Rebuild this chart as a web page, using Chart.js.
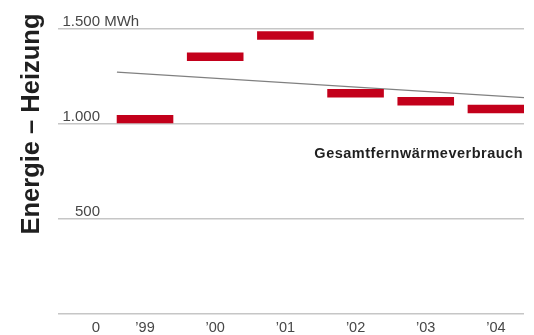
<!DOCTYPE html>
<html>
<head>
<meta charset="utf-8">
<script src="https://cdn.jsdelivr.net/npm/chart.js@4/dist/chart.umd.min.js"></script>
<style>
  html, body { margin: 0; padding: 0; background: #ffffff; }
  #wrap { width: 534px; height: 335px; }
</style>
</head>
<body>
<div id="wrap"><canvas id="c" width="534" height="335"></canvas></div>
<script>
// District heating consumption per year (MWh)
const years = ['\u201999', '\u201900', '\u201901', '\u201902', '\u201903', '\u201904'];
const consumption = [1023, 1351, 1463, 1159, 1117, 1076];

// Trend line through the series (x in year index, y in MWh)
const trendX = [-0.4, 5.4];
const trendY = [1270, 1136];

// Value axis ticks and their printed labels
const yTicks = [0, 500, 1000, 1500];
const yTickLabels = ['0', '500', '1.000', '1.500'];
const yUnit = 'MWh';

const axisTitle = 'Energie \u2013 Heizung';
const seriesLabel = 'Gesamtfernw\u00e4rmeverbrauch';

const RED = '#c3001b';
const GRID = '#c6c6c6';
const TEXT = '#474747';
const DARK = '#1f1f1f';
const FONT = '"Liberation Sans", Arial, Helvetica, sans-serif';

const labelsPlugin = {
  id: 'labels',
  afterDraw(chart) {
    const ctx = chart.ctx;
    const y = chart.scales.y;
    const area = chart.chartArea;
    const numRight = area.left + 42;

    ctx.save();
    // value labels sit just above their gridline; zero sits below the baseline
    ctx.font = '15px ' + FONT;
    ctx.fillStyle = TEXT;
    ctx.textBaseline = 'middle';
    yTicks.forEach((v, i) => {
      const py = y.getPixelForValue(v);
      const ty = v === 0 ? py + 14 : py - 6.5;
      ctx.textAlign = 'right';
      ctx.fillText(yTickLabels[i], numRight, ty);
      if (i === yTicks.length - 1) {
        ctx.textAlign = 'left';
        ctx.fillText(' ' + yUnit, numRight, ty);
      }
    });

    // series label under the trend
    ctx.font = 'bold 14.5px ' + FONT;
    ctx.fillStyle = DARK;
    ctx.textAlign = 'right';
    ctx.textBaseline = 'alphabetic';
    if ('letterSpacing' in ctx) ctx.letterSpacing = '0.5px';
    ctx.fillText(seriesLabel, area.right - 1, 158);
    if ('letterSpacing' in ctx) ctx.letterSpacing = '0px';

    // rotated axis title
    ctx.translate(38.5, 124);
    ctx.rotate(-Math.PI / 2);
    ctx.font = 'bold 25.5px ' + FONT;
    ctx.fillStyle = DARK;
    ctx.textAlign = 'center';
    ctx.textBaseline = 'alphabetic';
    ctx.fillText(axisTitle, 0, 0);
    ctx.restore();
  }
};

new Chart(document.getElementById('c'), {
  type: 'scatter',
  data: {
    datasets: [
      {
        label: 'Trend',
        type: 'line',
        data: trendX.map((x, i) => ({ x: x, y: trendY[i] })),
        borderColor: '#808080',
        borderWidth: 1.3,
        pointRadius: 0,
        pointHoverRadius: 0,
        fill: false,
        order: 2
      },
      {
        label: seriesLabel,
        data: consumption.map((v, i) => ({ x: i, y: v })),
        pointStyle: 'line',
        pointRadius: 28.3,
        pointHoverRadius: 28.3,
        pointBorderWidth: 8.4,
        pointHoverBorderWidth: 8.4,
        borderColor: RED,
        backgroundColor: RED,
        order: 1
      }
    ]
  },
  options: {
    responsive: false,
    animation: false,
    events: [],
    layout: {
      autoPadding: false,
      padding: { left: 58, right: 10, top: 28.5, bottom: 0 }
    },
    plugins: {
      legend: { display: false },
      tooltip: { enabled: false },
      title: { display: false }
    },
    scales: {
      x: {
        type: 'linear',
        min: -1.24,
        max: 5.4,
        afterBuildTicks(scale) {
          scale.ticks = years.map((_, i) => ({ value: i }));
        },
        afterFit(scale) { scale.height = 21.5; },
        grid: { display: false, drawTicks: false },
        border: { display: false },
        ticks: {
          padding: 6,
          maxRotation: 0,
          autoSkip: false,
          color: TEXT,
          font: { family: FONT, size: 14.5 },
          callback: (v) => years[v] !== undefined ? years[v] : ''
        }
      },
      y: {
        type: 'linear',
        min: 0,
        max: 1500,
        afterBuildTicks(scale) {
          scale.ticks = yTicks.map(v => ({ value: v }));
        },
        afterFit(scale) { scale.width = 0; },
        grid: { color: GRID, lineWidth: 1.6, drawTicks: false },
        border: { display: false },
        ticks: { display: false }
      }
    }
  },
  plugins: [labelsPlugin]
});
</script>
</body>
</html>
